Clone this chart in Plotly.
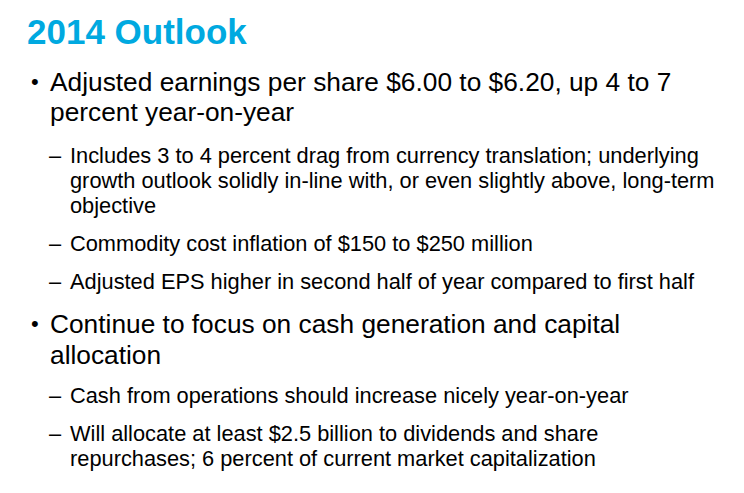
import plotly.graph_objects as go

W, H = 744, 493
OFFSET = 8  # page body margin in the browser

title_text = "2014 Outlook"
title_color = "#00A9E0"

main_1 = ["Adjusted earnings per share $6.00 to $6.20, up 4 to 7", "percent year-on-year"]
sub_1a = ["Includes 3 to 4 percent drag from currency translation; underlying",
          "growth outlook solidly in-line with, or even slightly above, long-term",
          "objective"]
sub_1b = ["Commodity cost inflation of $150 to $250 million"]
sub_1c = ["Adjusted EPS higher in second half of year compared to first half"]
main_2 = ["Continue to focus on cash generation and capital", "allocation"]
sub_2a = ["Cash from operations should increase nicely year-on-year"]
sub_2b = ["Will allocate at least $2.5 billion to dividends and share",
          "repurchases; 6 percent of current market capitalization"]

items = [
    ("main", main_1, [90, 120]),
    ("sub", sub_1a, [162, 187, 212]),
    ("sub", sub_1b, [250]),
    ("sub", sub_1c, [288]),
    ("main", main_2, [332, 363]),
    ("sub", sub_2a, [402]),
    ("sub", sub_2b, [440, 465]),
]

FONT = "Liberation Sans, Arial, sans-serif"
MAIN_SIZE, SUB_SIZE, TITLE_SIZE = 26.3, 21.8, 35

def px_x(x):
    return (x - OFFSET) / W

def px_y(y):
    return 1 - (y - OFFSET) / H

annotations = []

def add_text(text, x, baseline, size, color="black", bold=False, bsize=None):
    center = baseline - 0.32 * (bsize or size)
    t = f"<b>{text}</b>" if bold else text
    annotations.append(dict(
        text=t, x=px_x(x), y=px_y(center), xref="paper", yref="paper",
        xanchor="left", yanchor="middle", showarrow=False,
        font=dict(family=FONT, size=size, color=color), borderpad=0,
    ))

add_text(title_text, 26, 43, TITLE_SIZE, color=title_color, bold=True)

for level, lines, baselines in items:
    if level == "main":
        add_text("•", 30, baselines[0], 22, bsize=MAIN_SIZE)
        for ln, b in zip(lines, baselines):
            add_text(ln, 49, b, MAIN_SIZE)
    else:
        add_text("–", 48, baselines[0], SUB_SIZE)
        for ln, b in zip(lines, baselines):
            add_text(ln, 69, b, SUB_SIZE)

fig = go.Figure()
fig.update_layout(
    width=W, height=H, margin=dict(l=0, r=0, t=0, b=0),
    paper_bgcolor="white", plot_bgcolor="white",
    xaxis=dict(visible=False, range=[0, 1]),
    yaxis=dict(visible=False, range=[0, 1]),
    annotations=annotations, showlegend=False,
)
fig.write_html("out.html")
